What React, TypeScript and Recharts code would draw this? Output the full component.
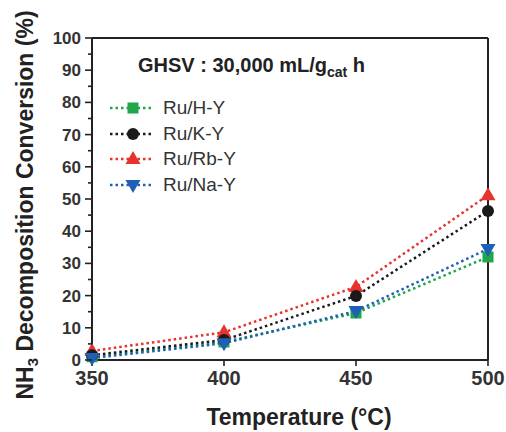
import React from 'react';
import { LineChart, Line, XAxis, YAxis, ReferenceLine, Legend } from 'recharts';

const temps = [350, 400, 450, 500];
const hY = [1.0, 5.6, 14.6, 32.0];
const kY = [1.5, 6.2, 19.9, 46.3];
const rbY = [2.8, 8.6, 22.7, 51.2];
const naY = [0.6, 5.2, 15.2, 34.5];
const yTicks = [0, 5, 10, 15, 20, 25, 30, 35, 40, 45, 50, 55, 60, 65, 70, 75, 80, 85, 90, 95, 100];
const xTicks = [350, 400, 450, 500];

const seriesInfo = [
  { key: 'h', name: 'Ru/H-Y', color: '#1fa64a', shape: 'square' },
  { key: 'k', name: 'Ru/K-Y', color: '#1a1a1a', shape: 'circle' },
  { key: 'rb', name: 'Ru/Rb-Y', color: '#e8322c', shape: 'triangle' },
  { key: 'na', name: 'Ru/Na-Y', color: '#1f5fb5', shape: 'invtriangle' },
];

const data = temps.map((t, i) => ({ t, h: hY[i], k: kY[i], rb: rbY[i], na: naY[i] }));

const FONT = '"Liberation Sans", Arial, Helvetica, sans-serif';

function Marker({ cx, cy, shape, color }: any) {
  if (cx == null || cy == null) return null;
  if (shape === 'square') return <rect x={cx - 5.5} y={cy - 5.5} width={11} height={11} fill={color} />;
  if (shape === 'circle') return <circle cx={cx} cy={cy} r={6} fill={color} />;
  if (shape === 'triangle')
    return <polygon points={`${cx},${cy - 8} ${cx - 7.5},${cy + 5} ${cx + 7.5},${cy + 5}`} fill={color} />;
  return <polygon points={`${cx},${cy + 8} ${cx - 7.5},${cy - 5} ${cx + 7.5},${cy - 5}`} fill={color} />;
}

const YTick = (props: any) => {
  const { x, y, payload } = props;
  const major = payload.value % 10 === 0;
  return (
    <g>
      <line x1={x} x2={x - (major ? 7 : 4)} y1={y} y2={y} stroke="#222" strokeWidth={1.6} />
      {major && (
        <text x={x - 11} y={y} dy={6} textAnchor="end" fontFamily={FONT} fontWeight="bold" fontSize={17} fill="#333">
          {payload.value}
        </text>
      )}
    </g>
  );
};

const XTick = (props: any) => {
  const { x, y, payload } = props;
  return (
    <text x={x} y={y} dy={15} textAnchor="middle" fontFamily={FONT} fontWeight="bold" fontSize={20} fill="#333">
      {payload.value}
    </text>
  );
};

const LegendContent = () => (
  <div style={{ fontFamily: FONT, fontSize: 19, color: '#333' }}>
    {seriesInfo.map((s) => (
      <div key={s.key} style={{ display: 'flex', alignItems: 'center', height: 25.7 }}>
        <svg width={48} height={20} style={{ display: 'block' }}>
          <line x1={2} x2={46} y1={10} y2={10} stroke={s.color} strokeWidth={2.5} strokeDasharray="2.5 3" />
          <Marker cx={25} cy={10} shape={s.shape} color={s.color} />
        </svg>
        <span style={{ marginLeft: 7 }}>{s.name}</span>
      </div>
    ))}
  </div>
);

export default function App() {
  return (
    <div style={{ position: 'absolute', left: 0, top: 0, width: 506, height: 432, background: '#fff' }}>
      <LineChart width={506} height={432} data={data} margin={{ top: 38, right: 18, left: 0, bottom: 42 }}>
        <XAxis
          dataKey="t"
          type="number"
          domain={[350, 500]}
          ticks={xTicks}
          tick={<XTick />}
          tickSize={6}
          tickMargin={4}
          height={30}
          axisLine={{ stroke: '#222', strokeWidth: 2 }}
          tickLine={{ stroke: '#222', strokeWidth: 1.6 }}
        />
        <YAxis
          type="number"
          domain={[0, 100]}
          ticks={yTicks}
          interval={0}
          width={92}
          tick={<YTick />}
          tickSize={0}
          tickMargin={0}
          tickLine={false}
          axisLine={{ stroke: '#222', strokeWidth: 2 }}
        />
        <ReferenceLine y={100} stroke="#222" strokeWidth={2} />
        <ReferenceLine x={500} stroke="#222" strokeWidth={2} />
        <Legend
          layout="vertical"
          align="center"
          verticalAlign="middle"
          content={<LegendContent />}
          wrapperStyle={{ position: 'absolute', left: 108, top: 95, width: 'auto' }}
        />
        {[seriesInfo[0], seriesInfo[2], seriesInfo[1], seriesInfo[3]].map((s) => (
          <Line
            key={s.key}
            dataKey={s.key}
            name={s.name}
            stroke={s.color}
            strokeWidth={2.5}
            strokeDasharray="2.5 3"
            isAnimationActive={false}
            dot={(p: any) => <Marker key={`${s.key}-${p.index}`} cx={p.cx} cy={p.cy} shape={s.shape} color={s.color} />}
            activeDot={false}
            type="linear"
          />
        ))}
      </LineChart>
      <svg width={506} height={432} style={{ position: 'absolute', left: 0, top: 0, pointerEvents: 'none' }}>
        <text x={138} y={72} fontFamily={FONT} fontWeight="bold" fontSize={20} fill="#222">
          GHSV : 30,000 mL/g<tspan fontSize={14} dy={5}>cat</tspan>
          <tspan dy={-5}> h</tspan>
        </text>
        <text
          x={33}
          y={205}
          transform="rotate(-90 33 205)"
          textAnchor="middle"
          fontFamily={FONT}
          fontWeight="bold"
          fontSize={23}
          fill="#222"
        >
          NH<tspan fontSize={15} dy={5}>3</tspan>
          <tspan dy={-5}> Decomposition Conversion (%)</tspan>
        </text>
        <text x={299} y={425} textAnchor="middle" fontFamily={FONT} fontWeight="bold" fontSize={23} fill="#222">
          Temperature (°C)
        </text>
      </svg>
    </div>
  );
}
